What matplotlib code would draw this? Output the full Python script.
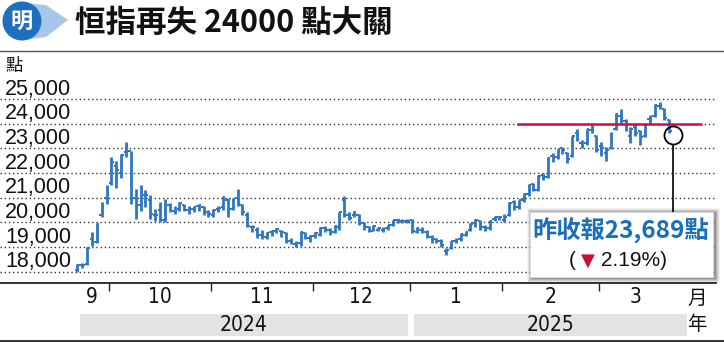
import matplotlib
matplotlib.use("Agg")
import matplotlib.pyplot as plt
import numpy as np
from matplotlib.patches import Rectangle, Ellipse, Polygon
from matplotlib.lines import Line2D
from matplotlib import font_manager

# ---------------- data ----------------
dates = (
    ["2024-09-20", "2024-09-23", "2024-09-24", "2024-09-25", "2024-09-26", "2024-09-27", "2024-09-30"]
    + ["2024-10-%02d" % d for d in [2, 3, 4, 7, 8, 9, 10, 14, 15, 16, 17, 18, 21, 22, 23, 24, 25, 28, 29, 30, 31]]
    + ["2024-11-%02d" % d for d in [1, 4, 5, 6, 7, 8, 11, 12, 13, 14, 15, 18, 19, 20, 21, 22, 25, 26, 27, 28, 29]]
    + ["2024-12-%02d" % d for d in [2, 3, 4, 5, 6, 9, 10, 11, 12, 13, 16, 17, 18, 19, 20, 23, 24, 27, 30, 31]]
    + ["2025-01-%02d" % d for d in [2, 3, 6, 7, 8, 9, 10, 13, 14, 15, 16, 17, 20, 21, 22, 23, 24, 27, 28]]
    + ["2025-02-%02d" % d for d in [3, 4, 5, 6, 7, 10, 11, 12, 13, 14, 17, 18, 19, 20, 21, 24, 25, 26, 27, 28]]
    + ["2025-03-%02d" % d for d in [3, 4, 5, 6, 7, 10, 11, 12, 13, 14, 17, 18, 19, 20, 21]]
)

opens = [18050, 18250, 18300, 19300, 19200, 20300, 21000,
         21600, 22300, 22000, 22850, 22900, 21000, 20700, 21100, 20900, 20300, 20500, 20100, 20700, 20450, 20550, 20700, 20500, 20550, 20650, 20600, 20400,
         20300, 20550, 20600, 20900, 20550, 21000, 20700, 20300, 19800, 19700, 19500, 19400, 19600, 19650, 19650, 19550, 19250, 19100, 19150, 19550, 19350,
         19450, 19500, 19750, 19700, 19600, 19800, 20900, 20300, 20300, 20300, 19950, 19800, 19650, 19700, 19700, 19750, 19900, 20100, 20050, 20050,
         20100, 19600, 19700, 19600, 19400, 19300, 19250, 18850, 18950, 19250, 19300, 19500, 19700, 19950, 20050, 19800, 19750, 20150, 20200,
         20100, 20300, 20800, 20600, 20900, 21150, 21550, 21300, 21900, 21850, 22700, 22650, 23000, 22800, 22700, 23600, 23200, 23200, 23750, 23500,
         23100, 22800, 23000, 23800, 24300, 24100, 23500, 23850, 23700, 23500, 24200, 24300, 24700, 24600, 24150]
highs = [18300, 18330, 19000, 19600, 19950, 20800, 21500,
         22650, 22500, 22750, 23241, 22900, 21350, 21500, 21300, 21100, 20550, 20800, 20950, 20780, 20650, 20800, 20750, 20650, 20650, 20750, 20650, 20500,
         20550, 20650, 21050, 21000, 20980, 21350, 20750, 20400, 19900, 19800, 19700, 19600, 19700, 19750, 19700, 19600, 19350, 19250, 19650, 19600, 19500,
         19600, 19800, 19850, 19750, 19900, 20420, 21050, 20400, 20450, 20350, 20000, 19850, 19900, 19800, 19800, 19900, 20100, 20150, 20150, 20120,
         20150, 19800, 19800, 19700, 19500, 19350, 19300, 18950, 19250, 19350, 19550, 19650, 19950, 20150, 20100, 19900, 20100, 20250, 20250,
         20350, 20800, 20900, 20900, 21200, 21550, 21600, 21900, 22000, 22650, 22800, 22980, 23050, 22850, 23500, 23800, 23350, 23800, 24000, 23550,
         23250, 23050, 23650, 24450, 24600, 24200, 23850, 24000, 23750, 24000, 24350, 24800, 24874, 24650, 24200]
lows = [18000, 18150, 18280, 19050, 19150, 20200, 20750,
        21500, 21400, 21800, 22650, 20750, 20150, 20450, 20600, 20150, 20050, 19990, 20000, 20400, 20350, 20450, 20450, 20350, 20400, 20450, 20300, 20200,
        20200, 20400, 20500, 20200, 20500, 20650, 20300, 19800, 19600, 19350, 19300, 19300, 19450, 19550, 19400, 19150, 19100, 19000, 19050, 19300, 19200,
        19350, 19450, 19600, 19500, 19550, 19700, 20200, 20100, 20200, 19900, 19700, 19600, 19650, 19650, 19600, 19700, 19850, 19950, 19950, 19950,
        19550, 19550, 19550, 19350, 19150, 19150, 19000, 18670, 18900, 19150, 19250, 19450, 19650, 19800, 19700, 19650, 19700, 20050, 20100,
        20000, 20250, 20500, 20550, 20800, 21050, 21250, 21250, 21700, 21800, 22450, 22550, 22750, 22400, 22650, 23300, 23000, 23150, 23600, 22850,
        22700, 22500, 22950, 23750, 24000, 23700, 23200, 23500, 23150, 23450, 24000, 24250, 24600, 24150, 23600]
closes = [18258, 18247, 18959, 19129, 19924, 20632, 21133,
          22443, 22113, 22736, 23099, 20926, 20637, 21251, 21092, 20318, 20286, 20079, 20804, 20478, 20498, 20760, 20489, 20590, 20599, 20701, 20380, 20317,
          20506, 20567, 21006, 20538, 20953, 20728, 20426, 19846, 19823, 19435, 19426, 19576, 19663, 19705, 19601, 19229, 19151, 19159, 19603, 19366, 19423,
          19550, 19746, 19742, 19560, 19865, 20414, 20311, 20155, 20397, 19971, 19795, 19700, 19864, 19752, 19720, 19883, 20098, 20090, 20041, 20059,
          19623, 19760, 19688, 19447, 19279, 19240, 19064, 18874, 19219, 19286, 19522, 19584, 19925, 20106, 19778, 19700, 20066, 20197, 20225,
          20217, 20790, 20597, 20891, 21133, 21522, 21294, 21857, 21814, 22620, 22616, 22976, 22944, 22577, 23478, 23342, 23034, 23787, 23718, 22941,
          23006, 22941, 23594, 24370, 24231, 23783, 23782, 23600, 23462, 23959, 24145, 24740, 24771, 24219, 23689]

month_labels = ["9", "10", "11", "12", "1", "2", "3"]
year_labels = ["2024", "2025"]
ytick_values = [18000, 19000, 20000, 21000, 22000, 23000, 24000, 25000]
ref_level = 24000
title_text = "恒指再失 24000 點大關"
unit_text = "點"
callout_main = "昨收報23,689點"
callout_change = "2.19%)"

# ---------------- fonts ----------------
def has_font(name):
    try:
        font_manager.findfont(font_manager.FontProperties(family=name), fallback_to_default=False)
        return True
    except Exception:
        return False

NUM = "Liberation Sans" if has_font("Liberation Sans") else "DejaVu Sans"
NARROW_PROPS = dict(family=NUM)
if has_font("Liberation Sans Narrow"):
    NARROW_PROPS = dict(family="Liberation Sans Narrow")
else:
    try:
        p = font_manager.findfont(font_manager.FontProperties(family="DejaVu Sans", stretch="condensed"),
                                  fallback_to_default=False)
        if "Condensed" in p:
            NARROW_PROPS = dict(family="DejaVu Sans", stretch="condensed")
    except Exception:
        pass
CJK = ["Noto Sans CJK TC", "DejaVu Sans"]

W, H = 724, 343
fig = plt.figure(figsize=(W / 100, H / 100), dpi=100)
fig.patch.set_facecolor("white")

def fx(x):
    return x / W

def fy(y):
    return 1 - y / H

BLUE = "#2e75c2"
RED = "#d0103a"

# ---------------- axes ----------------
X0, DX = 77.5, 4.85          # pixel position of first bar, px per trading day
PX_PER_K = 24.65             # px per 1000 points
Y18 = 271.5                  # pixel row of 18,000
ax_left, ax_right, ax_top, ax_bot = 0, 716, 85, 283
ax = fig.add_axes([fx(ax_left), fy(ax_bot), (ax_right - ax_left) / W, (ax_bot - ax_top) / H])
ax.set_xlim((ax_left - X0) / DX, (ax_right - X0) / DX)
ax.set_ylim(18000 - (ax_bot - Y18) / PX_PER_K * 1000, 18000 + (Y18 - ax_top) / PX_PER_K * 1000)
ax.set_facecolor("none")
for s in ["top", "right", "left"]:
    ax.spines[s].set_visible(False)
ax.spines["bottom"].set_linewidth(1.3)
ax.spines["bottom"].set_color("#222222")

idx = np.arange(len(dates))
months = [d[:7] for d in dates]
bounds = [i - 0.5 for i in range(1, len(dates)) if months[i] != months[i - 1]]
groups = []
start = 0
for i in range(1, len(dates) + 1):
    if i == len(dates) or months[i] != months[i - 1]:
        groups.append((start + i - 1) / 2)
        start = i

# grid
ax.set_yticks(ytick_values)
ax.yaxis.grid(True, linestyle=(0, (1, 2)), color="#333333", linewidth=1.0)
ax.tick_params(axis="y", length=0, labelleft=False)
for v in ytick_values:
    ax.annotate(f"{v:,}", xy=(fx(5) / ((ax_right - ax_left) / W), v), xycoords=("axes fraction", "data"),
                xytext=(0, 3), textcoords="offset points", va="baseline", ha="left",
                fontsize=15.5, family=NUM, color="#111111")

# x ticks
ax.set_xticks(bounds)
ax.set_xticklabels([""] * len(bounds))
ax.tick_params(axis="x", which="major", direction="out", length=6, width=1, color="#222222")
ax.set_xticks(groups, minor=True)
ax.set_xticklabels(month_labels, minor=True, fontsize=15, color="#111111", **NARROW_PROPS)
ax.tick_params(axis="x", which="minor", length=0, pad=3)

# OHLC bars
ax.vlines(idx, lows, highs, color=BLUE, linewidth=2.0, zorder=3)
ax.hlines(opens, idx - 0.5, idx, color=BLUE, linewidth=1.4, zorder=3)
ax.hlines(closes, idx, idx + 0.5, color=BLUE, linewidth=1.4, zorder=3)

# reference line
ax.hlines(ref_level, (517 - X0) / DX, (702 - X0) / DX, color=RED, linewidth=1.8, zorder=4)

# circle around last bar
ax.plot([idx[-1] + 0.8], [closes[-1] - 150], marker="o", markersize=13, mfc="none",
        mec="black", mew=1.3, zorder=5, clip_on=False)

# ---------------- header ----------------
fig.add_artist(Polygon([(fx(24), fy(3)), (fx(46), fy(5)), (fx(68), fy(20)), (fx(46), fy(37)), (fx(24), fy(40))],
                       closed=True, facecolor="#a8c6ea", edgecolor="none", transform=fig.transFigure))
fig.add_artist(Ellipse((fx(22), fy(21)), 39 / W, 39 / H, facecolor="#1f6fbf", edgecolor="none",
                       transform=fig.transFigure))
fig.text(fx(22), fy(21), "明", color="white", fontsize=16, fontweight="bold", family=CJK, ha="center", va="center")
fig.text(fx(75), fy(23), title_text, fontsize=22, fontweight="bold", family=CJK, ha="left", va="center", color="#111111")
fig.add_artist(Line2D([0, 1], [fy(51), fy(51)], color="#555555", linewidth=1.0, transform=fig.transFigure))
fig.text(fx(5), fy(66), unit_text, fontsize=12.5, family=CJK, ha="left", va="center", color="#111111")

# ---------------- year bands ----------------
for (x1, x2), lab in zip([(80, 408), (414, 687)], year_labels):
    fig.add_artist(Rectangle((fx(x1), fy(336)), (x2 - x1) / W, 22 / H, facecolor="#e3e3e3",
                             edgecolor="none", transform=fig.transFigure))
    fig.text(fx((x1 + x2) / 2), fy(325), lab, fontsize=15, ha="center", va="center", color="#111111",
             **NARROW_PROPS)
fig.text(fx(697), fy(298), "月", fontsize=14, family=CJK, ha="center", va="center", color="#111111")
fig.text(fx(697), fy(325), "年", fontsize=14, family=CJK, ha="center", va="center", color="#111111")
fig.add_artist(Line2D([0, 1], [fy(341), fy(341)], color="#222222", linewidth=1.3, transform=fig.transFigure))

# ---------------- callout ----------------
fig.add_artist(Line2D([fx(673), fx(673)], [fy(145), fy(212)], color="#111111", linewidth=1.3,
                      transform=fig.transFigure, zorder=6))
bx1, by1, bx2, by2 = 530, 212, 713, 277
for k, a in [(5, 0.05), (4, 0.07), (3, 0.09), (2, 0.12), (1, 0.15)]:
    fig.add_artist(Rectangle((fx(bx1 - k + 2), fy(by2 + k + 1)), (bx2 - bx1 + 2 * k) / W, (by2 - by1 + 2 * k) / H,
                             facecolor="black", alpha=a, edgecolor="none", transform=fig.transFigure, zorder=7))
fig.add_artist(Rectangle((fx(bx1), fy(by2)), (bx2 - bx1) / W, (by2 - by1) / H, facecolor="white",
                         edgecolor="#dddddd", linewidth=0.6, transform=fig.transFigure, zorder=8))
fig.text(fx(621), fy(231), callout_main, fontsize=17.5, fontweight="bold", family=CJK, color="#1a6fba",
         ha="center", va="center", zorder=9)
fig.text(fx(569), fy(261), "(", fontsize=15, family=NUM, color="#111111", ha="left", va="center", zorder=9)
fig.text(fx(581), fy(261), "▼", fontsize=13, family=["DejaVu Sans"], color="#c8102e", ha="left", va="center", zorder=9)
fig.text(fx(601), fy(261), callout_change, fontsize=15, family=NUM, color="#111111", ha="left", va="center", zorder=9)

fig.savefig("out.png", dpi=100, facecolor="white")
